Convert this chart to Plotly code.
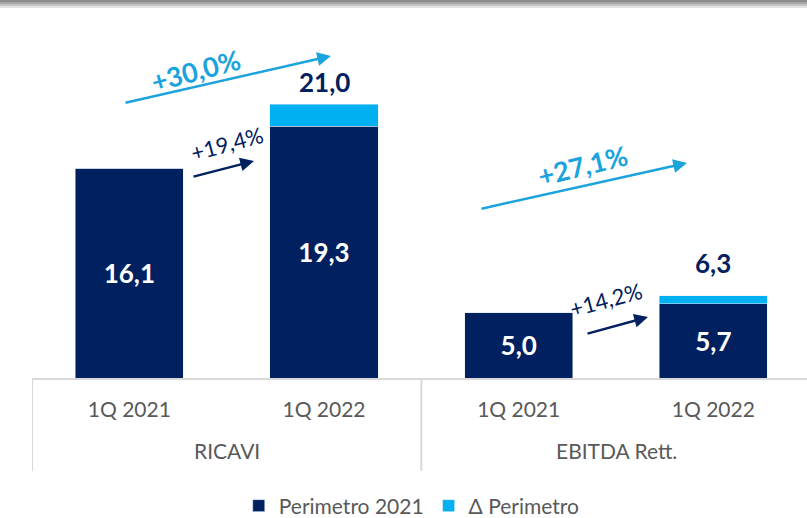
import plotly.graph_objects as go

groups = ["RICAVI", "EBITDA Rett."]
periods = ["1Q 2021", "1Q 2022", "1Q 2021", "1Q 2022"]
perimetro_2021 = [16.1, 19.3, 5.0, 5.7]
delta_perimetro = [0.0, 1.7, 0.0, 0.6]
totals = [16.1, 21.0, 5.0, 6.3]

NAVY = "#002060"
LIGHT = "#00B0F0"
ARROW_LIGHT = "#1BA3DD"
GREY_TXT = "#595959"
GRID = "#d9d9d9"
FONT = "Lato"

W, H = 807, 518
M_L, M_R, M_T, M_B = 32, 0, 40, 140
PLOT_W = W - M_L - M_R
PLOT_H = H - M_T - M_B
TOTAL_LIFT = [0, 22, 0, 33]  # px between bar top and total label centre


def fmt(v):
    return f"{v:.1f}".replace(".", ",")


def px(x, y):
    # pixel -> paper coords, for the decorative arrows
    return (x - M_L) / PLOT_W, (H - M_B - y) / PLOT_H


cats = [f"{groups[i // 2]} {p}" for i, p in enumerate(periods)]

fig = go.Figure()
fig.add_trace(go.Bar(
    x=cats, y=perimetro_2021, name="Perimetro 2021", marker_color=NAVY,
    text=[fmt(v) for v in perimetro_2021], textposition="inside",
    insidetextanchor="middle", textangle=0,
    textfont=dict(family=FONT, size=26, color="white", weight="bold"),
))
fig.add_trace(go.Bar(
    x=cats, y=delta_perimetro, name="Δ Perimetro", marker_color=LIGHT,
    textposition="none",
))

# totals above the stacked bars
for c, t, d, lift in zip(cats, totals, delta_perimetro, TOTAL_LIFT):
    if d > 0:
        fig.add_annotation(
            x=c, y=t, text=fmt(t), showarrow=False, xanchor="center",
            yanchor="middle", yshift=lift,
            font=dict(family=FONT, size=26, color=NAVY, weight="bold"),
        )

arrows = [
    # (tail, head, label, label pos, angle, colour, size, bold)
    ((124, 103), (331, 56), "+30,0%", (195, 70), -15, ARROW_LIGHT, 27, True),
    ((192, 177), (254, 161), "+19,4%", (227, 143), -15, NAVY, 22, False),
    ((480, 209), (687, 163), "+27,1%", (582, 165), -14, ARROW_LIGHT, 27, True),
    ((586, 334), (648, 317), "+14,2%", (606, 299), -15, NAVY, 22, False),
]
for tail, head, label, lpos, ang, col, size, bold in arrows:
    hx, hy = px(*head)
    fig.add_annotation(
        x=hx, y=hy, xref="paper", yref="paper", ax=tail[0] - head[0], ay=tail[1] - head[1],
        axref="pixel", ayref="pixel", text="", showarrow=True,
        arrowhead=2, arrowsize=1.1, arrowwidth=2.5, arrowcolor=col,
    )
    lx, ly = px(*lpos)
    fig.add_annotation(
        x=lx, y=ly, xref="paper", yref="paper", text=label, showarrow=False,
        xanchor="center", yanchor="middle", textangle=ang,
        font=dict(family=FONT, size=size, color=col,
                  weight="bold" if bold else "normal"),
    )

# group labels under the period ticks, and the dividers between groups
for i, g in enumerate(groups):
    fig.add_annotation(
        x=2 * i + 0.5, y=px(0, 450)[1], xref="x", yref="paper", text=g,
        showarrow=False, xanchor="center", yanchor="middle",
        font=dict(family=FONT, size=21, color=GREY_TXT),
    )
for xd in [-0.5, 1.5]:
    fig.add_shape(type="line", xref="x", yref="paper", x0=xd, x1=xd,
                  y0=0, y1=px(0, 471)[1], line=dict(color=GRID, width=2))

# soft grey shadow along the top edge
for i, c in enumerate(["#8c8c8c", "#a6a6a6", "#c4c4c4", "#e2e2e2"]):
    y0 = 1 + (M_T - 2 * i - 2) / PLOT_H
    fig.add_shape(type="rect", xref="paper", yref="paper", x0=-0.05, x1=1.05,
                  y0=y0, y1=y0 + 2 / PLOT_H, fillcolor=c, line_width=0, layer="below")

fig.update_layout(
    width=W, height=H, barmode="stack", bargap=0.445,
    margin=dict(l=M_L, r=M_R, t=M_T, b=M_B, autoexpand=False),
    paper_bgcolor="white", plot_bgcolor="white",
    font=dict(family=FONT, size=21, color=GREY_TXT),
    showlegend=True,
    legend=dict(orientation="h", x=0.49, xanchor="center", y=px(0, 506)[1],
                yanchor="middle", traceorder="normal",
                font=dict(family=FONT, size=21, color=GREY_TXT), itemwidth=30),
    xaxis=dict(type="category", showline=True, linecolor=GRID, linewidth=2,
               ticks="outside", ticklen=12, tickcolor="rgba(0,0,0,0)",
               tickvals=cats, ticktext=periods, range=[-0.5, 3.481],
               tickfont=dict(family=FONT, size=21, color=GREY_TXT),
               automargin=False),
    yaxis=dict(range=[0, PLOT_H / 13.04], visible=False),
)

# the page's default body margin would push the figure 8px down and right
fig.write_html("out.html", config={"displayModeBar": False},
               post_script="document.body.style.margin='0';")
